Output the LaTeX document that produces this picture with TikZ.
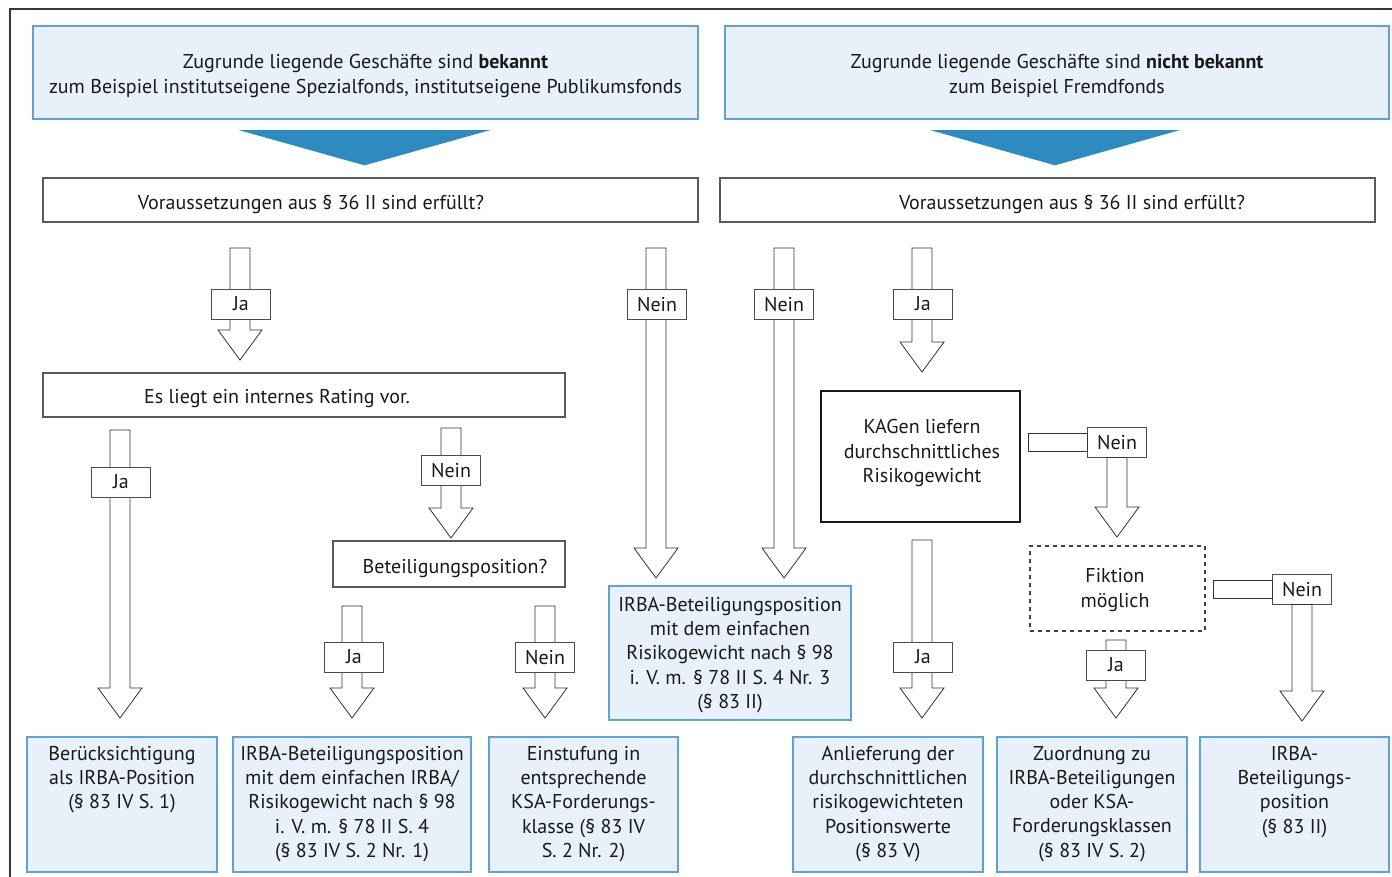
\documentclass[tikz,border=0pt]{standalone}
\usepackage{fontspec}
\setmainfont{PT Sans}
\usepackage{tikz}
\usetikzlibrary{positioning,calc}

\definecolor{boxfill}{RGB}{232,241,249}
\definecolor{boxline}{RGB}{95,163,212}
\definecolor{wedgeblue}{RGB}{46,139,192}
\definecolor{framegray}{RGB}{55,55,55}
\newcommand{\px}{0.75pt}
% hollow block arrow: #1 top of shaft, #2 tip
\newcommand{\hollowarrow}[2]{%
  \draw[arrowline] ($(#1)+(-10,0)$) -- ($(#1)+(10,0)$) -- ($(#2)+(10,-30)$) -- ($(#2)+(22,-30)$) -- (#2) -- ($(#2)+(-22,-30)$) -- ($(#2)+(-10,-30)$) -- cycle;}

\begin{document}
\begin{tikzpicture}[x=0.75pt,y=0.75pt,yscale=-1,xscale=1,
  every node/.style={font=\fontsize{15}{18.2}\selectfont, text=black!90, align=center},
  resbox/.style={draw=boxline, fill=boxfill, line width=1pt, inner sep=0pt},
  qbox/.style={draw=black!65, fill=white, line width=1pt, inner sep=0pt},
  tag/.style={draw=black!70, fill=white, line width=0.6pt, minimum width=59*\px, minimum height=30*\px, inner sep=0pt},
  arrowline/.style={draw=black!80, fill=white, line width=0.6pt, line join=miter}]
\useasboundingbox (0,0) rectangle (1392,876);

%Shape: Frame
\draw [color=framegray, line width=1.2pt] (10,890) -- (10,9) -- (1400,9) ;

%Shape: Rectangle (top)
\node [resbox, minimum width=665*\px, minimum height=93*\px] (known) at (365.5,72.5) {};
\node (knownt) at (365.5,76) {Zugrunde liegende Geschäfte sind \textbf{bekannt}\\zum Beispiel institutseigene Spezialfonds, institutseigene Publikumsfonds};
\node [resbox, minimum width=664*\px, minimum height=93*\px] (unknown) at (1057,72.5) {};
\node (unknownt) at (1057,76) {Zugrunde liegende Geschäfte sind \textbf{nicht bekannt}\\zum Beispiel Fremdfonds};

%Shape: Rectangle (conditions)
\node [qbox, minimum width=655*\px, minimum height=44*\px] (cond1) at (370.5,200) {};
\node (cond1t) at (311,204) {Voraussetzungen aus § 36 II sind erfüllt?};
\node [qbox, minimum width=655*\px, minimum height=44*\px] (cond2) at (1047.5,200) {};
\node (cond2t) at (1072,204) {Voraussetzungen aus § 36 II sind erfüllt?};

%Shape: Triangle
\fill [wedgeblue] (known.south |- 0,130) ++(-127,0) -- ++(252,0) -- ($(known.south |- cond1.north)+(-1,-12)$) -- cycle ;
\fill [wedgeblue] (unknown.south |- 0,130) ++(-127,0) -- ++(250,0) -- ($(unknown.south |- cond2.north)+(-2,-12)$) -- cycle ;

%Shape: Rectangle
\node [qbox, minimum width=522*\px, minimum height=44*\px] (rating) at (304,395) {};
\node (ratingt) at (277,399) {Es liegt ein internes Rating vor.};
\node [qbox, minimum width=232*\px, minimum height=46*\px] (share) at (449,564) {};
\node (sharet) at (455,568) {Beteiligungsposition?};
\node [draw=black!90, fill=white, line width=1pt, minimum width=199*\px, minimum height=131*\px] (kagen) at (920.5,456.5) {};
\node (kagent) at (922,453) {KAGen liefern\\durchschnittliches\\Risikogewicht};
\node [draw=black!75, dashed, line width=0.9pt, minimum width=175*\px, minimum height=85*\px] (fiction) at (1117.5,588.5) {};
\node (fictiont) at (1115,590) {Fiktion\\möglich};
\node [resbox, minimum width=242*\px, minimum height=134*\px] (simple) at (730,653) {};
\node (simplet) at (730,655) {IRBA-Beteiligungsposition\\mit dem einfachen\\Risikogewicht nach § 98\\i. V. m. § 78 II S. 4 Nr. 3\\(§ 83 II)};

%Shape: Rectangle (results)
\node [resbox, minimum width=190*\px, minimum height=135*\px] (res1) at (122,804.5) {};
\node [anchor=north] (res1t) at ($(res1.north)+(0,5)$) {Berücksichtigung\\als IRBA-Position\\(§ 83 IV S. 1)};
\node [resbox, minimum width=238*\px, minimum height=135*\px] (res2) at (352,804.5) {};
\node [anchor=north] (res2t) at ($(res2.north)+(0,5)$) {IRBA-Beteiligungsposition\\mit dem einfachen IRBA/\\Risikogewicht nach § 98\\i. V. m. § 78 II S. 4\\(§ 83 IV S. 2 Nr. 1)};
\node [resbox, minimum width=189*\px, minimum height=135*\px] (res3) at (583.5,804.5) {};
\node [anchor=north] (res3t) at ($(res3.north)+(0,5)$) {Einstufung in\\entsprechende\\KSA-Forderungs-\\klasse (§ 83 IV\\S. 2 Nr. 2)};
\node [resbox, minimum width=190*\px, minimum height=135*\px] (res4) at (888,804.5) {};
\node [anchor=north] (res4t) at ($(res4.north)+(0,5)$) {Anlieferung der\\durchschnittlichen\\risikogewichteten\\Positionswerte\\(§ 83 V)};
\node [resbox, minimum width=190*\px, minimum height=135*\px] (res5) at (1092,804.5) {};
\node [anchor=north] (res5t) at ($(res5.north)+(0,5)$) {Zuordnung zu\\IRBA-Beteiligungen\\oder KSA-\\Forderungsklassen\\(§ 83 IV S. 2)};
\node [resbox, minimum width=189*\px, minimum height=135*\px] (res6) at (1294.5,804.5) {};
\node [anchor=north] (res6t) at ($(res6.north)+(0,5)$) {IRBA-\\Beteiligungs-\\position\\(§ 83 II)};

%Straight Lines (block arrows)
\coordinate (a1s) at (240,248); \coordinate (a1e) at (240,360);
\hollowarrow{a1s}{a1e}
\node [tag] (a1l) at (241,304) {Ja};

\coordinate (a2s) at (120,430); \coordinate (a2e) at (120,718);
\hollowarrow{a2s}{a2e}
\node [tag] (a2l) at (121,482) {Ja};

\coordinate (a3s) at (451,428); \coordinate (a3e) at (451,538);
\hollowarrow{a3s}{a3e}
\node [tag] (a3l) at (451,470) {Nein};

\coordinate (a4s) at (352,606); \coordinate (a4e) at (352,718);
\hollowarrow{a4s}{a4e}
\node [tag] (a4l) at (354,657) {Ja};

\coordinate (a5s) at (545,606); \coordinate (a5e) at (545,718);
\hollowarrow{a5s}{a5e}
\node [tag] (a5l) at (545,657) {Nein};

\coordinate (a6s) at (656,248); \coordinate (a6e) at (656,578);
\hollowarrow{a6s}{a6e}
\node [tag] (a6l) at (657,304) {Nein};

\coordinate (a7s) at (784,248); \coordinate (a7e) at (784,578);
\hollowarrow{a7s}{a7e}
\node [tag] (a7l) at (784,304) {Nein};

\coordinate (a8s) at (922,248); \coordinate (a8e) at (922,372);
\hollowarrow{a8s}{a8e}
\node [tag] (a8l) at (923,304) {Ja};

\coordinate (a9s) at (922,540); \coordinate (a9e) at (922,718);
\hollowarrow{a9s}{a9e}
\node [tag] (a9l) at (923,657) {Ja};

% Nein from KAGen
\coordinate (h1s) at (1028,442);
\node [tag] (a10l) at (1117,442) {Nein};
\draw [arrowline] ($(h1s)+(0,-9)$) rectangle ($(a10l.west)+(0,9)$) ;
\coordinate (a10e) at (1117,537);
\hollowarrow{a10l.south}{a10e}

\coordinate (a11s) at (1116,640); \coordinate (a11e) at (1116,718);
\hollowarrow{a11s}{a11e}
\node [tag] (a11l) at (1116,665) {Ja};

% Nein from Fiktion
\coordinate (h2s) at (1213,589.5);
\node [tag] (a12l) at (1302,589) {Nein};
\draw [arrowline] ($(h2s)+(0,-9)$) rectangle ($(a12l.west)+(0,9)$) ;
\coordinate (a12e) at (1302,721);
\hollowarrow{a12l.south}{a12e}

\end{tikzpicture}
\end{document}
